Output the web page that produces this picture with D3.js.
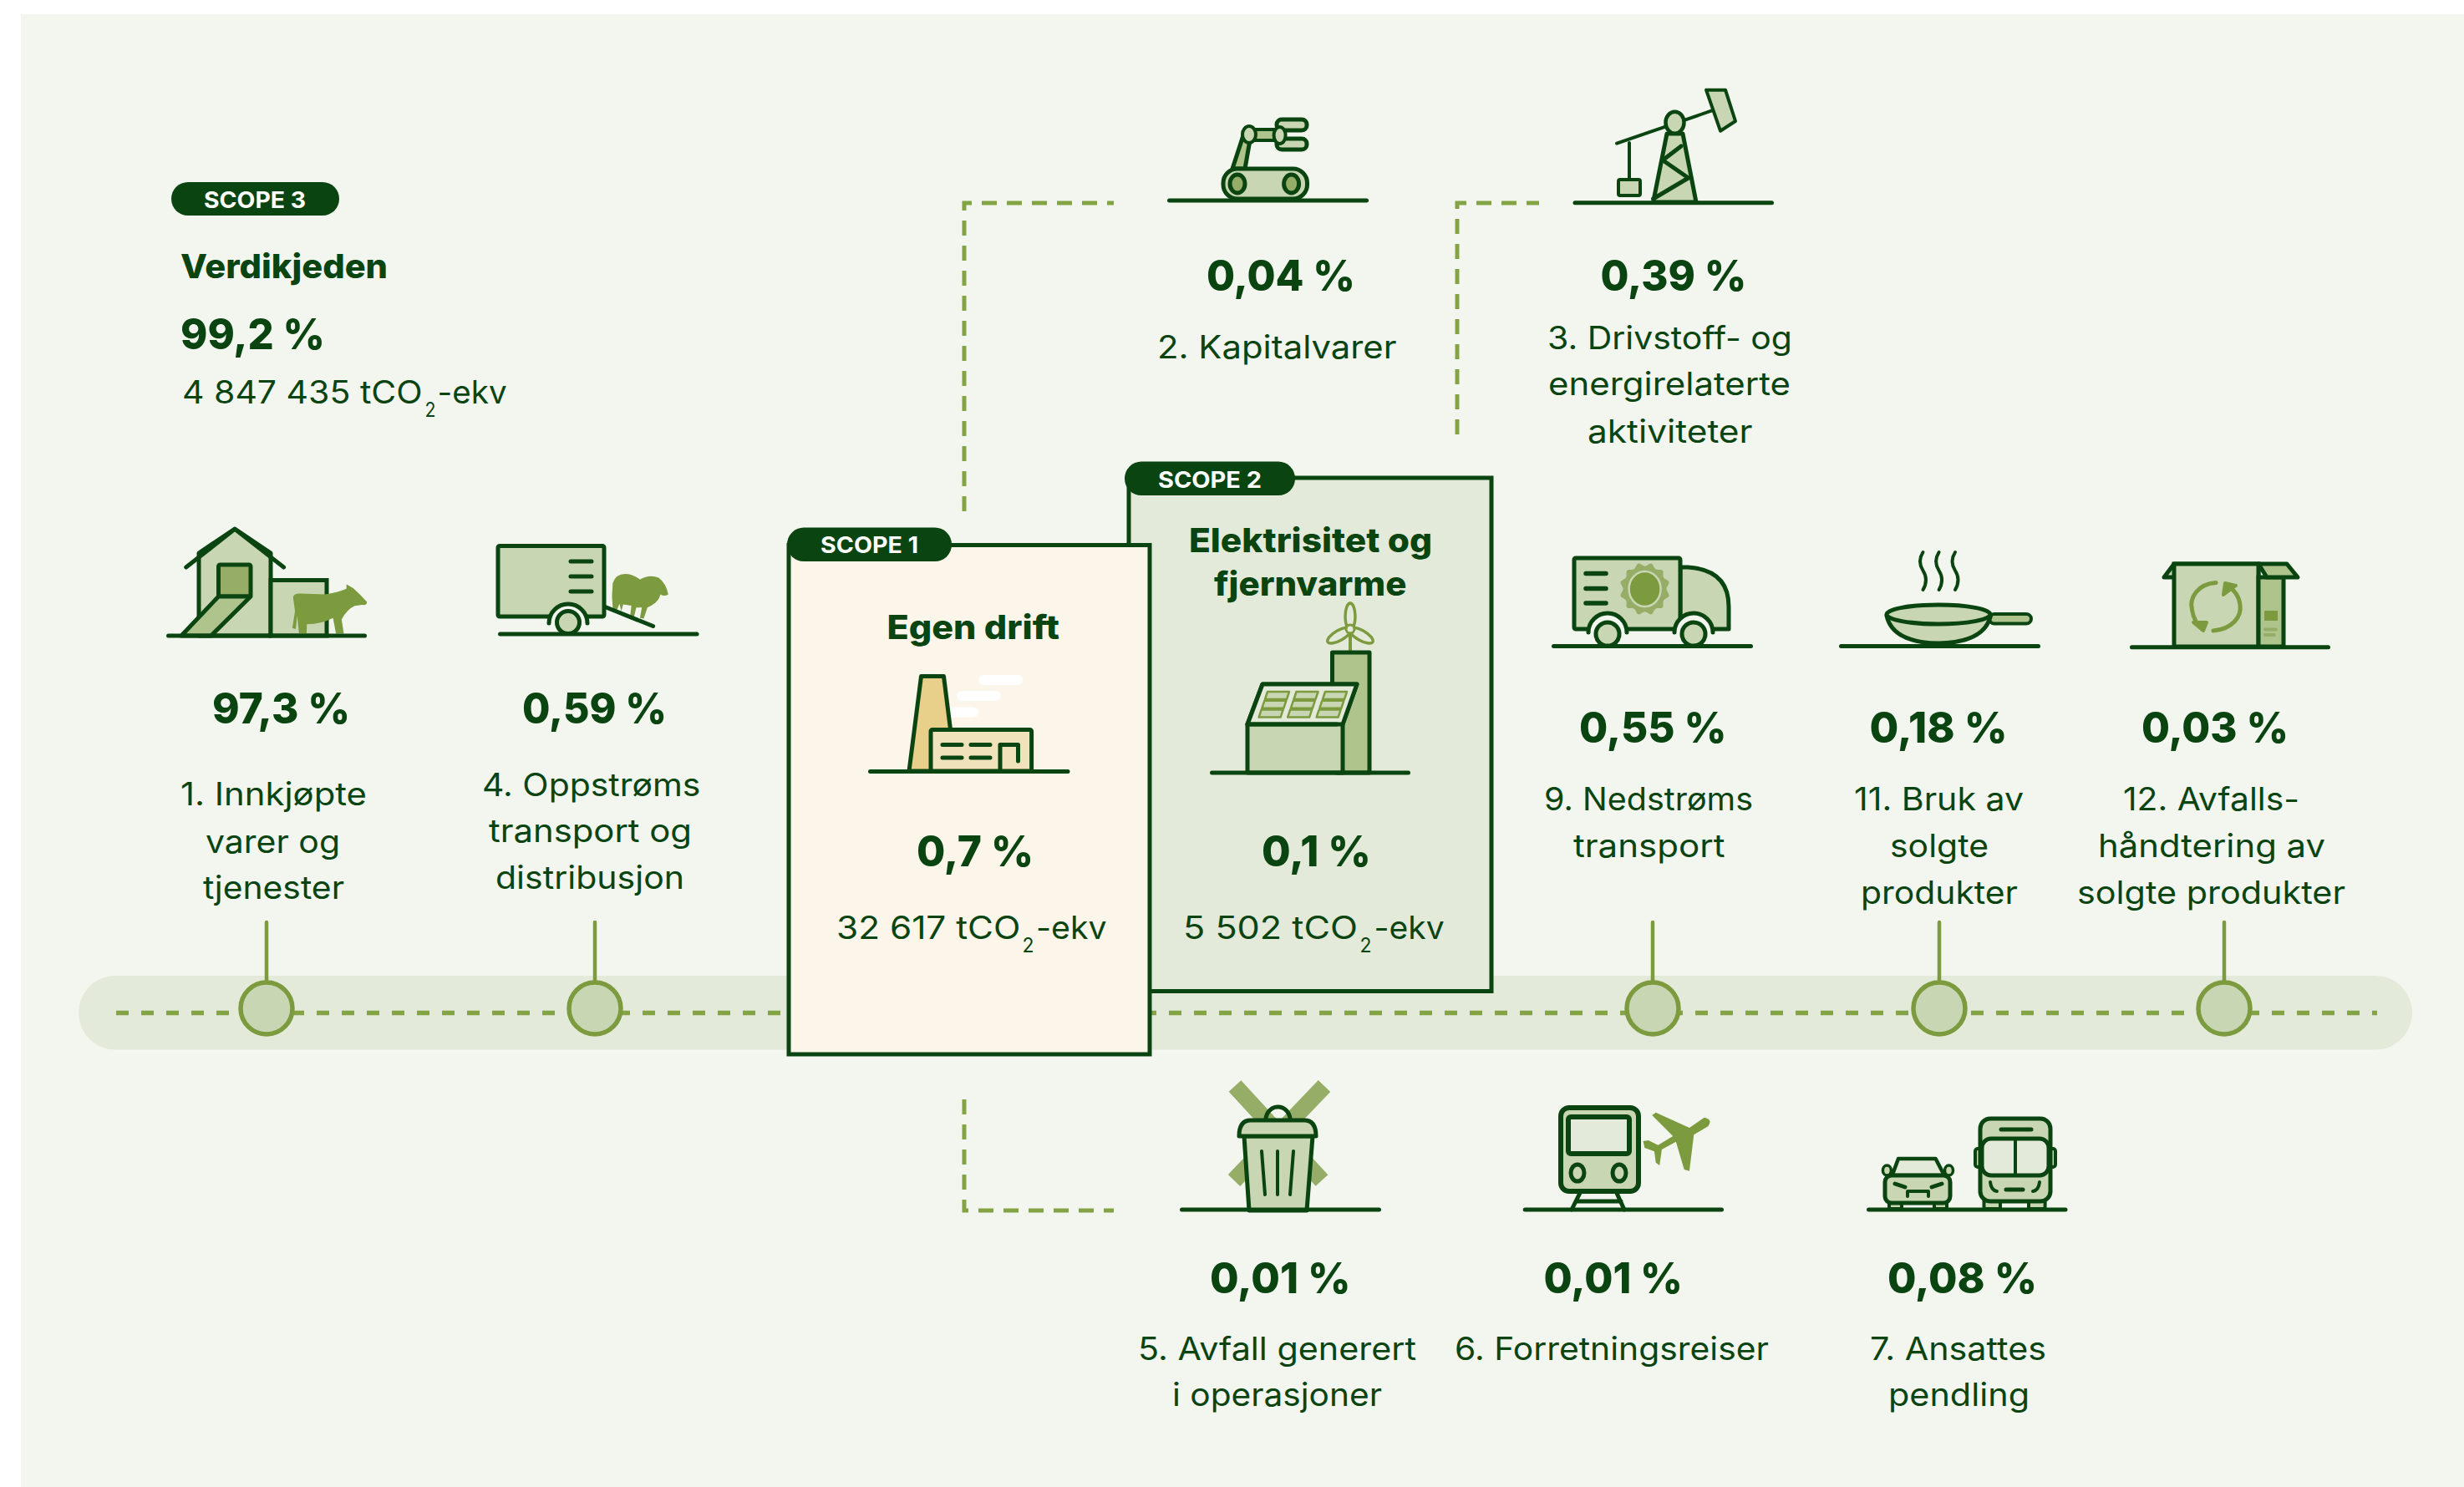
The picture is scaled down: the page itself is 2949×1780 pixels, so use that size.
<!DOCTYPE html>
<html lang="nb"><head><meta charset="utf-8">
<style>html,body{margin:0;padding:0;background:#fff}svg{display:block}text{font-family:Inter,"Noto Sans",sans-serif}</style>
<script src="https://cdnjs.cloudflare.com/ajax/libs/d3/7.8.5/d3.min.js"></script>
</head><body><div id="c"></div>
<script>
// ---------- data ----------
const categoryIds = [1,4,2,3,9,11,12,5,6,7];
const categoryLines = [
  ["1. Innkjøpte","varer og","tjenester"],
  ["4. Oppstrøms","transport og","distribusjon"],
  ["2. Kapitalvarer"],
  ["3. Drivstoff- og","energirelaterte","aktiviteter"],
  ["9. Nedstrøms","transport"],
  ["11. Bruk av","solgte","produkter"],
  ["12. Avfalls-","håndtering av","solgte produkter"],
  ["5. Avfall generert","i operasjoner"],
  ["6. Forretningsreiser"],
  ["7. Ansattes","pendling"]
];
const categoryShares = [97.3,0.59,0.04,0.39,0.55,0.18,0.03,0.01,0.01,0.08];
const timelineIds = [1,4,9,11,12];
const scopeNames = ["SCOPE 3","SCOPE 1","SCOPE 2"];
const scopeTitles = [["Verdikjeden"],["Egen drift"],["Elektrisitet og","fjernvarme"]];
const scopeShares = [99.2,0.7,0.1];
const scopeEmissions = ["4 847 435","32 617","5 502"];

// ---------- layout ----------
const W=2949,H=1780;
const DARK="#0a4410",LIGHT="#c9d6b3",MID="#afc48d",MID2="#96ad67",OLIVE="#7c9a3e",DASH="#84a345",BAND="#e4ead9",PANEL="#f3f6ef";
const nodeX=d3.scaleOrdinal().domain(timelineIds).range([319,712,1978,2321,2662]);
const bandY=1212.5,nodeY=1207;
const valueBoxes=[[254,419,865.5],[625,798,865.5],[1444,1622,348],[1915.5,2090.5,348],[1890,2066.5,888.6],[2237.6,2402.6,888.6],[2563,2739,888.6],[1448,1616.5,1547.7],[1847.5,2014,1547.7],[2259,2438,1547.7]];
const lineBoxes=[
 [[216,439,964],[246,407,1020.5],[243,412,1076]],
 [[577,838.4,952.6],[585,828,1008.4],[593,819,1064]],
 [[1385,1671.5,429]],
 [[1852,2145,418],[1853,2143,473],[1900,2097.5,530]],
 [[1848,2098,970],[1883,2064.6,1026]],
 [[2219,2422,970],[2262,2380,1026],[2227,2415,1082.4]],
 [[2541,2752,970],[2511,2783,1026],[2486,2807,1082.4]],
 [[1362,1695,1628],[1403,1654,1683]],
 [[1741,2117,1628]],
 [[2238,2449,1628],[2260,2429,1683]]
];
const fmt=v=>String(v).replace(".",",")+" %";

const svg=d3.select("#c").append("svg").attr("width",W).attr("height",H).attr("viewBox",`0 0 ${W} ${H}`);
const txt=(g,s,x0,x1,y,size,weight,fill=DARK)=>g.append("text").attr("x",x0).attr("y",y)
  .attr("font-size",size).attr("font-weight",weight).attr("fill",fill)
  .attr("textLength",x1-x0).attr("lengthAdjust","spacingAndGlyphs").text(s);
const P=(g,d,fill="none",sw=5,stroke=DARK)=>g.append("path").attr("d",d).attr("fill",fill).attr("stroke",stroke)
  .attr("stroke-width",sw).attr("stroke-linejoin","round").attr("stroke-linecap","round");
const R=(g,x0,y0,x1,y1,rx,fill,sw=5,stroke=DARK)=>g.append("rect").attr("x",x0).attr("y",y0).attr("width",x1-x0).attr("height",y1-y0).attr("rx",rx).attr("fill",fill).attr("stroke",stroke).attr("stroke-width",sw);
const E=(g,cx,cy,rx,ry,fill,sw=5,stroke=DARK)=>g.append("ellipse").attr("cx",cx).attr("cy",cy).attr("rx",rx).attr("ry",ry).attr("fill",fill).attr("stroke",stroke).attr("stroke-width",sw);
const F=(g,d,fill,tr)=>{const p=g.append("path").attr("d",d).attr("fill",fill);if(tr)p.attr("transform",tr);return p;};
const G=(g,x0,x1,y)=>P(g,`M${x0+2.5} ${y} H${x1-2.5}`);

// panel & band
svg.append("rect").attr("x",25).attr("y",17).attr("width",W-25).attr("height",H-17).attr("fill",PANEL);
svg.append("rect").attr("x",94).attr("y",1168).attr("width",2793).attr("height",88.5).attr("rx",44).attr("fill",BAND);
svg.append("line").attr("x1",139).attr("x2",2845).attr("y1",bandY).attr("y2",bandY).attr("stroke",DASH).attr("stroke-width",5.5).attr("stroke-dasharray","15 15");

// timeline stems and nodes
const nodes=svg.append("g");
nodes.selectAll("line").data(timelineIds).join("line").attr("x1",d=>nodeX(d)).attr("x2",d=>nodeX(d)).attr("y1",1104).attr("y2",nodeY-30).attr("stroke",OLIVE).attr("stroke-width",4.5).attr("stroke-linecap","round");
nodes.selectAll("circle").data(timelineIds).join("circle").attr("cx",d=>nodeX(d)).attr("cy",nodeY).attr("r",31).attr("fill",LIGHT).attr("stroke",OLIVE).attr("stroke-width",5.5);

// dashed elbows
const elbows=["M1154 612 V243 H1333","M1744 520 V243 H1842","M1154 1316 V1449 H1333"];
svg.selectAll("path.elbow").data(elbows).join("path").attr("class","elbow").attr("d",d=>d).attr("fill","none").attr("stroke",DASH).attr("stroke-width",5).attr("stroke-dasharray","18 12");

// scope boxes
R(svg,1351,572,1785,1186.5,0,BAND,5);
R(svg,1346,552.6,1550,593,20,DARK,0);
R(svg,944,652.5,1376,1262,0,"#fcf5e9",5);
R(svg,205,218,406,258,20,DARK,0);
R(svg,942,631.6,1139,672,20,DARK,0);
const pillBoxes=[[244,366,248.6],[982,1099,662],[1386,1510,583.6]];
scopeNames.forEach((s,i)=>txt(svg,s,pillBoxes[i][0],pillBoxes[i][1],pillBoxes[i][2],27,700,"#fff"));
const titleBoxes=[[[216,464,333]],[[1061.5,1268,765.4]],[[1423,1714,661],[1453,1683.4,712.6]]];
scopeTitles.forEach((ls,i)=>ls.forEach((s,j)=>txt(svg,s,titleBoxes[i][j][0],titleBoxes[i][j][1],titleBoxes[i][j][2],40,800)));
const shareBoxes=[[216,389,417.5],[1097,1237,1037],[1510,1641,1037]];
scopeShares.forEach((v,i)=>txt(svg,fmt(v),shareBoxes[i][0],shareBoxes[i][1],shareBoxes[i][2],51,800));
const emBoxes=[[218,505.6,483,508.5,521.5,499,523.5,606.6],[1001,1221.4,1124,1223.5,1237.5,1140,1240,1324.6],[1416,1625,1124,1627.5,1641.5,1140,1644.5,1728.7]];
scopeEmissions.forEach((s,i)=>{const b=emBoxes[i];
  txt(svg,s+" tCO",b[0],b[1],b[2],38,400);
  txt(svg,"2",b[3],b[4],b[5],24,400);
  txt(svg,"-ekv",b[6],b[7],b[2],38,400);
});

// category labels
categoryIds.forEach((id,i)=>{
  const v=valueBoxes[i];
  txt(svg,fmt(categoryShares[i]),v[0],v[1],v[2],51,800);
  categoryLines[i].forEach((s,j)=>{const b=lineBoxes[i][j];txt(svg,s,b[0],b[1],b[2],38.5,400);});
});

// ---------- icons ----------
const ic=svg.append("g");
// house & cow
let g=ic.append("g");
P(g,"M238 761 V662 L281 633 L324 662 V761 Z",LIGHT);
R(g,324,694.5,391,761,0,LIGHT);
F(g,"M405 212 Q408 202 425 203 L490 205 Q525 200 548 190 L548 178 L566 188 Q585 205 603 225 Q603 235 590 233 L570 236 Q550 245 535 272 L541 310 L520 310 L512 268 Q480 285 442 285 L441 310 L421 310 L416 262 L412 298 L403 295 L410 250 Z",OLIVE,"translate(170 620) scale(.4464)");
P(g,"M222.7 679 L281 633.4 L339.6 679");
R(g,261.5,676,300,714,2,MID2);
P(g,"M261.5 714 H300 L252.6 761 H217 Z",MID);
G(g,199,439,761);
// trailer & sheep
g=ic.append("g");
F(g,"M1262 175 Q1270 150 1295 150 Q1315 150 1335 165 Q1360 150 1385 160 Q1405 175 1411 205 Q1400 212 1390 205 Q1385 225 1365 235 L1355 240 L1345 270 L1335 268 L1340 240 L1325 240 L1318 270 L1308 268 L1312 235 L1290 232 L1285 250 L1280 230 L1272 250 L1262 240 L1260 210 Z",OLIVE,"translate(170 620) scale(.4464)");
P(g,"M723 726 L781.6 749.5");
R(g,596,653.5,723,738,2,LIGHT);
P(g,"M683 672 H708 M683 690 H708 M683 708 H708");
P(g,"M657 746 A23 23 0 0 1 703 746",PANEL);
E(g,680,745,13.5,13.5,LIGHT);
G(g,596,836.5,759);
// factory
g=ic.append("g");
[[1171,1224,814],[1145,1198,833],[1120,1171,852.6]].forEach(b=>R(g,b[0],b[2]-6,b[1],b[2]+6,6,"#fff",0));
P(g,"M1102.5 809.5 H1129.5 L1139 885 V923 H1088 Z","#e8d08a");
R(g,1114,873.5,1234.6,923,2,"#f0e3bb");
P(g,"M1128 891.4 H1151 M1162 891.4 H1185 M1128 907 H1151 M1162 907 H1185 M1197 923 V891.4 H1218.5 V911");
G(g,1039,1280.5,923.4);
// solar building
g=ic.append("g");
P(g,"M1616 781 V753","none",4,OLIVE);
[0,120,240].forEach(a=>E(g,1616,738,6,16,"none",3.5,OLIVE).attr("transform",`rotate(${a} 1616 753)`));
E(g,1616,753,5,5,BAND,3,OLIVE);
P(g,"M1594.5 820 V781 H1639 V925 H1600 Z",MID);
P(g,"M1493 925 V867 L1511 819 H1624 L1607 867 V925 Z",LIGHT);
P(g,"M1511 819 H1624 L1607 867 H1493 Z",BAND);
P(g,"M1493 867 H1600");
const panels=[0,1,2];panels.forEach(c=>panels.forEach(r=>{
  const x=1517+c*34.5-r*3.7,y=828+r*10.8;
  P(g,`M${x} ${y} h26 l-3 9 h-26 Z`,LIGHT,2.5,OLIVE);
}));
G(g,1448,1688,925);
// robot arm
g=ic.append("g");
P(g,"M1475 202 L1488 162 H1497 L1490 202 Z",MID);
R(g,1497,155,1532,168,0,MID,4);
R(g,1528,143,1564,156,6,LIGHT,5);
R(g,1528,166,1564,179,6,LIGHT,5);
E(g,1495,161,8,10,LIGHT,4);E(g,1531.6,162,7,10,LIGHT,4);
R(g,1464,202,1564.5,238,17,LIGHT,5);
E(g,1481,220,9,11,MID2,5);E(g,1545.6,220,9,11,MID2,5);
G(g,1397,1638,240);
// pump jack
g=ic.append("g");
P(g,"M1995 160 H2014 L2030 242 H1978.6 Z",LIGHT);
P(g,"M2012 175 L1990 191.7 L2020.7 213 L1978.6 238");
P(g,"M1935 171.7 L2051 131.7","none",4);
P(g,"M1950 171 V215","none",4);
R(g,1937,215,1963,234,2,LIGHT,4);
P(g,"M2042 107.7 H2065 L2077 145 L2059 156.7 Z",LIGHT,4);
E(g,2004.5,146.7,11,13,LIGHT,4.5);
G(g,1882.5,2123,242.7);
// truck
g=ic.append("g");
P(g,"M2011 679 H2020 Q2069 682 2069 726 V753 H2011 Z",LIGHT);
R(g,1884,668,2011,753,2,LIGHT);
P(g,"M1898 686.5 H1922 M1898 704.5 H1922 M1898 722 H1922","none",5.5);
const sunPts=d3.range(24).map(i=>{const a=i*Math.PI/12,r=i%2?30:26;return [1968.6+r*Math.cos(a),705+r*1.05*Math.sin(a)];});
g.append("path").attr("d",d3.line().curve(d3.curveCardinalClosed)(sunPts)).attr("fill",MID2);
E(g,1968.6,705,19,21,OLIVE,2.5,LIGHT);
[1924,2027].forEach(x=>{P(g,`M${x-23} 757 A23 23 0 0 1 ${x+23} 757`,PANEL);E(g,x,759,14,14,LIGHT);});
G(g,1857,2098,773.5);
// pan
g=ic.append("g");
[2301.5,2320.6,2340].forEach(x=>P(g,`M${x} 661 q-7 11 0 22 q7 11 0 23`,"none",4));
R(g,2381,735,2431,746.5,6,MID,4);
P(g,"M2258 737 Q2265 769 2320 770 Q2375 769 2382.5 737 Z",LIGHT);
E(g,2320,735.5,62,11.5,LIGHT);
G(g,2201,2442,773.5);
// box
g=ic.append("g");
P(g,"M2590 691 L2602 675 H2703 V691 Z",LIGHT);
R(g,2602,675,2703,774,0,LIGHT);
R(g,2703,691,2733,774,0,MID);
P(g,"M2703 675 H2737 L2750 691 H2713 Z",MID);
P(g,"M2652 697.5 C2630 699 2620 716 2623.5 730 C2625 740 2630 748 2636 753","none",5,OLIVE);
P(g,"M2649 755 C2672 753 2683 738 2681 724 C2680 714 2674 706 2665 700","none",5,OLIVE);
P(g,"M2625 745 L2637 755 L2641 745 Z",OLIVE,4,OLIVE);
P(g,"M2661 712 L2663 698 L2676 701 Z",OLIVE,4,OLIVE);
g.append("rect").attr("x",2710).attr("y",731).attr("width",16).attr("height",12).attr("fill",OLIVE);
P(g,"M2711 753.5 H2724 M2711 760 H2722","none",4,MID2);
G(g,2549,2789,774.7);
// trash & blades
g=ic.append("g");
["M1478 1300 L1582 1413","M1585 1300 L1477 1413"].forEach(d=>P(g,d,"none",20,MID2).attr("stroke-linecap","butt"));
P(g,"M1515 1341 V1340 A14.5 15 0 0 1 1544 1340 V1341","none",5);
P(g,"M1489 1360 H1571 L1564 1449 H1495 Z",LIGHT);
P(g,"M1483 1360 Q1483 1341 1497 1341 H1561 Q1575 1341 1575 1360 Z",LIGHT);
P(g,"M1510 1378 L1514 1430 M1529 1378 V1430 M1548 1378 L1544 1430","none",4);
G(g,1412,1653,1448);
// train & plane
g=ic.append("g");
F(g,"M1030 263 Q1042 270 1035 295 L1016 325 L1010 455 L1003 450 L992 350 L973 378 L970 435 L965 425 L963 385 L950 372 L948 348 L955 345 L968 362 L988 330 L960 255 L965 245 L1010 300 Z",OLIVE,"translate(1120 1250) scale(.893 .3333)");
P(g,"M1892 1426 L1881 1448 M1934 1426 L1944 1448 M1886 1438 H1940");
R(g,1868,1326,1961,1426,10,LIGHT,6);
R(g,1877,1337,1950,1381,3,BAND,6);
E(g,1888,1404,8,10,LIGHT,5);E(g,1938,1404,8,10,LIGHT,5);
G(g,1822.7,2063,1448);
// car & bus
g=ic.append("g");
R(g,2374.5,1430,2394,1447,2,LIGHT,4);R(g,2428,1430,2447.6,1447,2,LIGHT,4);
R(g,2364,1375,2372,1397,3,LIGHT,4);R(g,2452,1375,2460,1397,3,LIGHT,4);
R(g,2370,1339,2454,1438,12,LIGHT,5);
R(g,2372,1363,2452,1407,11,BAND,5);
P(g,"M2412 1363 V1407","none",4);
P(g,"M2395 1352 H2431 M2401 1424 H2421","none",5);
P(g,"M2382 1415 Q2383 1425 2390 1426 M2441 1415 Q2440 1425 2433 1426","none",4);
R(g,2261,1436,2276,1447,2,LIGHT,4);R(g,2315,1436,2330,1447,2,LIGHT,4);
E(g,2258.4,1401,5,6,LIGHT,3.5);E(g,2332.5,1401,5,6,LIGHT,3.5);
P(g,"M2272 1387 H2316.6 L2327 1407 H2264.6 Z",BAND,4.5);
R(g,2256,1407,2334,1440,8,LIGHT,5);
P(g,"M2268 1417 L2280 1421 M2324 1417 L2312 1421","none",5);
P(g,"M2283 1432 V1426 H2308 V1432","none",4);
G(g,2234,2474.5,1448);
</script></body></html>
